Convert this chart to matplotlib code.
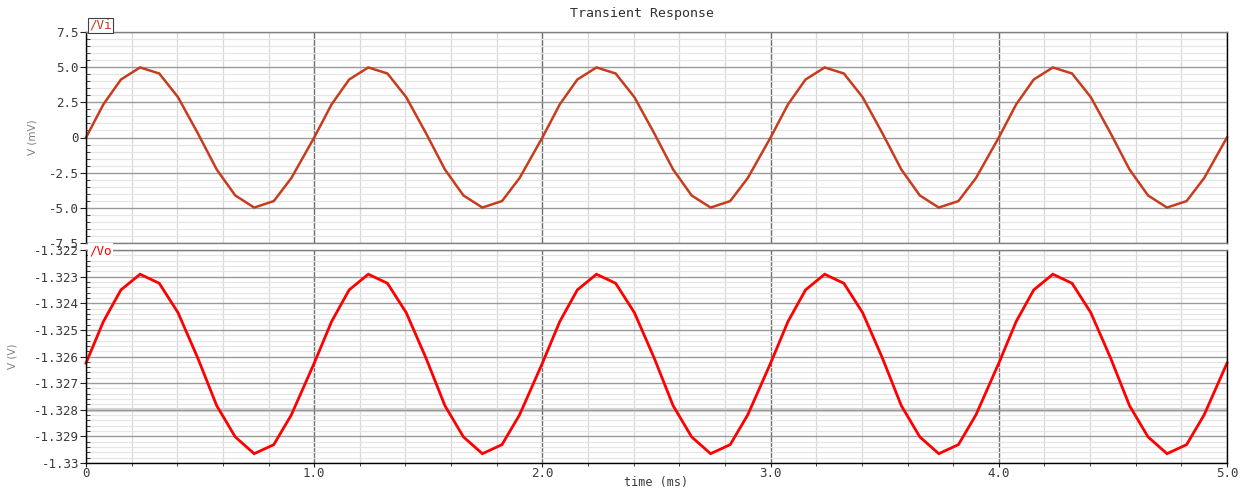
"""
Transient response of a small-signal amplifier stage: input Vi (mV) and
output Vo (V), two stacked strips sharing the time axis.
"""

import matplotlib
matplotlib.use("Agg")
import matplotlib.pyplot as plt
from matplotlib.ticker import FixedLocator, FixedFormatter, MultipleLocator

# --------------------------------------------------------------------------- #
# Data
# --------------------------------------------------------------------------- #
time_ms = [
    0.000, 0.076, 0.153, 0.237, 0.321, 0.403, 0.490, 0.573, 0.654, 0.737, 0.823, 0.900,
    1.000, 1.076, 1.153, 1.237, 1.321, 1.403, 1.490, 1.573, 1.654, 1.737, 1.823, 1.900,
    2.000, 2.076, 2.153, 2.237, 2.321, 2.403, 2.490, 2.573, 2.654, 2.737, 2.823, 2.900,
    3.000, 3.076, 3.153, 3.237, 3.321, 3.403, 3.490, 3.573, 3.654, 3.737, 3.823, 3.900,
    4.000, 4.076, 4.153, 4.237, 4.321, 4.403, 4.490, 4.573, 4.654, 4.737, 4.823, 4.900,
    5.000,
]

vi_mv = [
    0.00, 2.35, 4.12, 4.98, 4.55, 2.87, 0.30, -2.28, -4.12, -4.98, -4.52, -2.88,
    0.00, 2.35, 4.12, 4.98, 4.55, 2.87, 0.30, -2.28, -4.12, -4.98, -4.52, -2.88,
    0.00, 2.35, 4.12, 4.98, 4.55, 2.87, 0.30, -2.28, -4.12, -4.98, -4.52, -2.88,
    0.00, 2.35, 4.12, 4.98, 4.55, 2.87, 0.30, -2.28, -4.12, -4.98, -4.52, -2.88,
    0.00, 2.35, 4.12, 4.98, 4.55, 2.87, 0.30, -2.28, -4.12, -4.98, -4.52, -2.88,
    0.00,
]

vo_v = [
    -1.32625, -1.32469, -1.32350, -1.32291, -1.32325, -1.32435,
    -1.32606, -1.32785, -1.32902, -1.32965, -1.32931, -1.32819,
    -1.32625, -1.32469, -1.32350, -1.32291, -1.32325, -1.32435,
    -1.32606, -1.32785, -1.32902, -1.32965, -1.32931, -1.32819,
    -1.32625, -1.32469, -1.32350, -1.32291, -1.32325, -1.32435,
    -1.32606, -1.32785, -1.32902, -1.32965, -1.32931, -1.32819,
    -1.32625, -1.32469, -1.32350, -1.32291, -1.32325, -1.32435,
    -1.32606, -1.32785, -1.32902, -1.32965, -1.32931, -1.32819,
    -1.32625, -1.32469, -1.32350, -1.32291, -1.32325, -1.32435,
    -1.32606, -1.32785, -1.32902, -1.32965, -1.32931, -1.32819,
    -1.32625,
]

vi_ticks = [7.5, 5.0, 2.5, 0.0, -2.5, -5.0, -7.5]
vi_labels = ["7.5", "5.0", "2.5", "0", "-2.5", "-5.0", "-7.5"]
vo_ticks = [-1.322, -1.323, -1.324, -1.325, -1.326, -1.327, -1.328, -1.329, -1.330]
vo_labels = ["-1.322", "-1.323", "-1.324", "-1.325", "-1.326",
             "-1.327", "-1.328", "-1.329", "-1.33"]
t_ticks = [0.0, 1.0, 2.0, 3.0, 4.0, 5.0]
t_labels = ["0", "1.0", "2.0", "3.0", "4.0", "5.0"]

# --------------------------------------------------------------------------- #
# Style
# --------------------------------------------------------------------------- #
MONO = "DejaVu Sans Mono"
TXT = "#3a3a3a"
VI_COLOR = "#c83c1e"
VO_COLOR = "#ff0000"
MAJ_GRID = "#9a9a9a"
MIN_GRID = "#e6e6e6"
VMAJ_GRID = "#6e6e6e"
VMIN_GRID = "#d8d8d8"

W, H = 1251, 492
fig = plt.figure(figsize=(W / 100, H / 100), dpi=100)


def box(left, top, right, bottom):
    return [left / W, 1 - bottom / H, (right - left) / W, (bottom - top) / H]


ax_top = fig.add_axes(box(86, 32, 1227, 243))
ax_bot = fig.add_axes(box(86, 250, 1227, 463))


def style(ax, ticks, labels, minor_step, show_x):
    ax.set_xlim(0, 5)
    ax.set_ylim(min(ticks), max(ticks))
    ax.yaxis.set_major_locator(FixedLocator(ticks))
    ax.yaxis.set_major_formatter(FixedFormatter(labels))
    ax.yaxis.set_minor_locator(MultipleLocator(minor_step))
    ax.xaxis.set_major_locator(FixedLocator(t_ticks))
    ax.xaxis.set_minor_locator(MultipleLocator(0.2))
    if show_x:
        ax.xaxis.set_major_formatter(FixedFormatter(t_labels))
    else:
        ax.set_xticklabels([])

    # grid: light minor, gray major horizontals, dark major verticals
    ax.grid(which="minor", axis="y", color=MIN_GRID, lw=0.9)
    ax.grid(which="major", axis="y", color=MAJ_GRID, lw=1.0)
    ax.grid(which="minor", axis="x", color=VMIN_GRID, lw=0.9)
    ax.grid(which="major", axis="x", color=VMAJ_GRID, lw=1.0)
    ax.set_axisbelow(True)

    ax.tick_params(axis="y", which="major", direction="out", length=4,
                   width=0.8, color="#202020", labelsize=9, labelcolor=TXT,
                   pad=1)
    ax.tick_params(axis="y", which="minor", direction="in", length=3,
                   width=0.6, color="#202020")
    ax.tick_params(axis="x", which="major", direction="out", length=3,
                   width=0.8, color="#202020", labelsize=9, labelcolor=TXT,
                   pad=0, bottom=show_x)
    ax.tick_params(axis="x", which="minor", direction="out", length=2,
                   width=0.6, color="#202020", bottom=show_x)
    for lab in ax.get_yticklabels() + ax.get_xticklabels():
        lab.set_family(MONO)

    ax.spines["left"].set_color("black")
    ax.spines["right"].set_color("black")
    ax.spines["top"].set_color("#808080")
    ax.spines["bottom"].set_color("black" if show_x else "#808080")
    for s in ax.spines.values():
        s.set_linewidth(1.0)


style(ax_top, vi_ticks, vi_labels, 0.5, show_x=False)
style(ax_bot, vo_ticks, vo_labels, 0.0002, show_x=True)

# thicker pale band the simulator draws on one level
ax_bot.axhline(-1.328, color="#d6d6d6", lw=3.0, zorder=0.5)

# --------------------------------------------------------------------------- #
# Traces
# --------------------------------------------------------------------------- #
ax_top.plot(time_ms, vi_mv, color=VI_COLOR, lw=1.8, solid_joinstyle="miter",
            clip_on=False)
ax_bot.plot(time_ms, vo_v, color=VO_COLOR, lw=2.0, solid_joinstyle="miter",
            clip_on=False)

# --------------------------------------------------------------------------- #
# Labels, signal tabs, title
# --------------------------------------------------------------------------- #
ax_top.set_ylabel("V (mV)", family="DejaVu Sans", fontsize=7.5,
                  color="#808080")
ax_top.yaxis.set_label_coords(-0.0429, 0.5)
ax_bot.set_ylabel("V (V)", family="DejaVu Sans", fontsize=7.5,
                  color="#808080")
ax_bot.yaxis.set_label_coords(-0.0596, 0.5)
ax_bot.set_xlabel("time (ms)", family=MONO, fontsize=8.5, color=TXT,
                  va="center")
ax_bot.xaxis.set_label_coords(0.5, -0.092)

ax_top.text(0.003, 1.0, "/Vi", transform=ax_top.transAxes, family=MONO,
            fontsize=9, color=VI_COLOR, va="bottom", ha="left",
            bbox=dict(facecolor="white", edgecolor="#404040", lw=0.8,
                      boxstyle="square,pad=0.1"))
ax_bot.text(0.003, 0.995, "/Vo", transform=ax_bot.transAxes, family=MONO,
            fontsize=9, color=VO_COLOR, va="center", ha="left",
            bbox=dict(facecolor="white", edgecolor="none",
                      boxstyle="square,pad=0.1"))

fig.text(642 / W, 1 - 13 / H, "Transient Response", family=MONO,
         fontsize=9.5, color="#303030", ha="center", va="center")

fig.savefig("out.png", dpi=100)
